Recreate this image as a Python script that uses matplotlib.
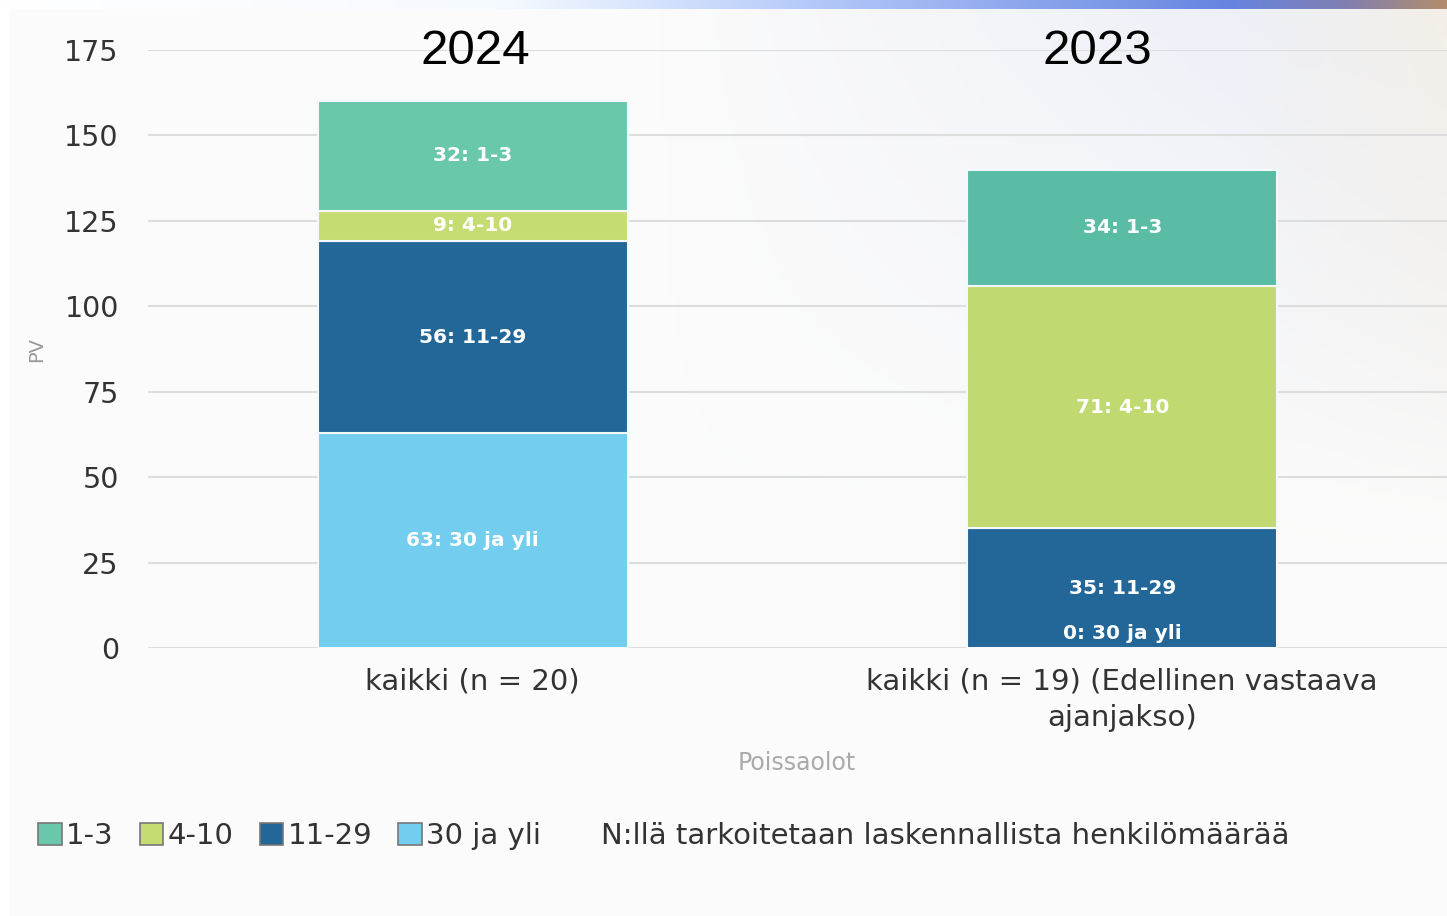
"""Poissaolot 2024 vs 2023 -- stacked bars, recreated."""
import numpy as np
import matplotlib

matplotlib.use("Agg")
import matplotlib.pyplot as plt
from matplotlib.patches import Patch

# data
categories = ["kaikki (n = 20)", "kaikki (n = 19) (Edellinen vastaava\najanjakso)"]
years = ["2024", "2023"]
series = ["30 ja yli", "11-29", "4-10", "1-3"]  # bottom -> top
values = {
    "30 ja yli": [63, 0],
    "11-29": [56, 35],
    "4-10": [9, 71],
    "1-3": [32, 34],
}
legend_order = ["1-3", "4-10", "11-29", "30 ja yli"]
yticks = [0, 25, 50, 75, 100, 125, 150, 175]
note = "N:llä tarkoitetaan laskennallista henkilömäärää"

COLORS = {
    "1-3": ["#69c7ab", "#5bbca6"],
    "4-10": ["#c5dc73", "#c0d970"],
    "11-29": ["#236698", "#236698"],
    "30 ja yli": ["#73cdee", "#73cdee"],
}

plt.rcParams["font.family"] = ["DejaVu Sans"]

W, H = 1447, 916
fig = plt.figure(figsize=(W / 100, H / 100), dpi=100)

# background: soft gradient with a coloured strip on top
bg = fig.add_axes([0, 0, 1, 1], zorder=-10)
yy, xx = np.mgrid[0:1:200j, 0:1:300j]
base = np.array([0.985, 0.985, 0.985])
lav = np.array([0.925, 0.935, 0.970])
cream = np.array([0.955, 0.940, 0.910])
w_lav = np.clip((xx - 0.45) / 0.45, 0, 1) * np.clip(1 - yy / 0.55, 0, 1)
w_cr = np.clip((xx - 0.85) / 0.15, 0, 1) * np.clip(1 - yy / 0.6, 0, 1)
img = base * (1 - w_lav[..., None]) + lav * w_lav[..., None]
img = img * (1 - w_cr[..., None]) + cream * w_cr[..., None]
img[:, :2] = 1.0
bg.imshow(img, extent=[0, 1, 0, 1], aspect="auto", origin="upper")
# strip
sx = np.linspace(0, 1, 400)
stops_x = [0.0, 0.35, 0.55, 0.85, 0.93, 1.0]
stops_c = np.array([[1, 1, 1], [0.96, 0.98, 1.0], [0.72, 0.80, 0.98],
                     [0.40, 0.52, 0.88], [0.50, 0.50, 0.70], [0.70, 0.55, 0.42]])
strip = np.stack([np.interp(sx, stops_x, stops_c[:, k]) for k in range(3)], axis=-1)
bg.imshow(strip[None, :, :], extent=[0, 1, 1 - 9 / H, 1], aspect="auto")
bg.set_xlim(0, 1)
bg.set_ylim(0, 1)
bg.axis("off")

ax = fig.add_axes([148 / W, 1 - 648 / H, 1 - 148 / W, 598 / H])
ax.patch.set_alpha(0)

x = np.arange(len(categories))
bottom = np.zeros(len(categories))
for s in series:
    v = np.array(values[s], dtype=float)
    ax.bar(x, v, 0.478, bottom=bottom, color=COLORS[s], edgecolor="#f4f8fb",
           linewidth=1.5, zorder=3)
    for i in range(len(x)):
        yc = max(bottom[i] + v[i] / 2, 4.2)
        ax.text(x[i], yc, f"{int(v[i])}: {s}", ha="center", va="center",
                color="white", fontsize=14.5, fontweight="bold", zorder=4)
    bottom += v

ax.set_xlim(-0.5, 1.5)
ax.set_ylim(0, 175)
ax.set_yticks(yticks)
ax.set_xticks(x)
ax.set_xticklabels(categories, fontsize=21, color="#333333", linespacing=1.4)
ax.tick_params(axis="y", labelsize=20.5, labelcolor="#333333", length=0, pad=21)
ax.tick_params(axis="x", length=0, pad=14)
ax.grid(axis="y", color="#dddddd", lw=1.5, zorder=0)
for sp in ax.spines.values():
    sp.set_visible(False)

fig.text(37 / W, 1 - 350 / H, "PV", rotation=90, ha="center", va="center",
         fontsize=14, color="#999999")
fig.text(797 / W, 1 - 763 / H, "Poissaolot", ha="center", va="center",
         fontsize=17, color="#aaaaaa")

for xc, yr in zip([475, 1097], years):
    fig.text(xc / W, 1 - 51 / H, yr, ha="center", va="center", fontsize=35.5,
             color="black", family=["Liberation Sans", "DejaVu Sans"])

handles = [Patch(facecolor=COLORS[s][0], edgecolor="#777777", lw=1.2, label=s)
           for s in legend_order]
fig.legend(handles=handles, loc="center left", bbox_to_anchor=(12 / W, 1 - 836 / H),
           ncol=4, frameon=False, fontsize=21, handlelength=0.8, handleheight=0.8,
           handletextpad=0.15, columnspacing=0.9, labelcolor="#333333")
fig.text(601 / W, 1 - 836 / H, note, ha="left", va="center", fontsize=21,
         color="#333333")

fig.savefig("out.png", dpi=100)
